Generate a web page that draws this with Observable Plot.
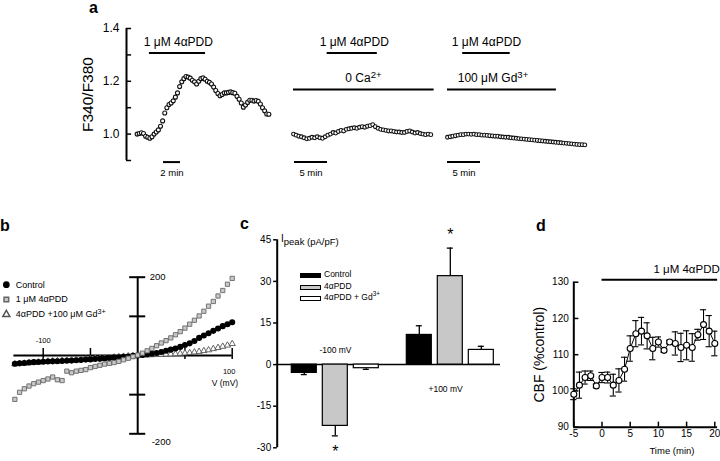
<!DOCTYPE html>
<html>
<head>
<meta charset="utf-8">
<script src="https://cdn.jsdelivr.net/npm/d3@7"></script>
<script src="https://cdn.jsdelivr.net/npm/@observablehq/plot@0.6"></script>
<style>
html,body{margin:0;padding:0;background:#fff;}
#fig{position:relative;width:720px;height:461px;overflow:hidden;font-family:"Liberation Sans",Arial,Helvetica,sans-serif;color:#000;background:#fff;}
#fig > svg{position:absolute;left:0;top:0;}
.plab{position:absolute;font-weight:bold;font-size:16px;line-height:1;}
.txt{position:absolute;line-height:1;white-space:nowrap;}
.txt sup{font-size:75%;line-height:0;}
.sw{position:absolute;width:19px;height:3px;border:1px solid #000;}
</style>
</head>
<body>
<div id="fig"></div>
<script>
const FONT = '"Liberation Sans", Arial, Helvetica, sans-serif';

// ---------------- Panel a : F340/F380 ----------------
const aYTicks = [0.9, 1.0, 1.1, 1.2, 1.3, 1.4];
const aYLabels = [1.0, 1.2, 1.4];
const aTrace1Start = 1.25, aTrace1Step = 0.25; // min
const aTrace1 = [1.000,1.002,1.005,1.002,0.992,0.988,0.984,0.990,1.000,1.008,
                 1.016,1.030,1.050,1.080,1.100,1.112,1.118,1.126,1.140,1.156,
                 1.180,1.198,1.210,1.218,1.216,1.212,1.204,1.198,1.190,1.200,
                 1.210,1.213,1.208,1.200,1.196,1.190,1.178,1.165,1.154,1.145,
                 1.150,1.156,1.156,1.158,1.160,1.157,1.155,1.143,1.132,1.118,
                 1.102,1.110,1.120,1.128,1.128,1.125,1.127,1.124,1.114,1.100,
                 1.088,1.076,1.075];
const aTrace2Start = 0, aTrace2Step = 0.4;
const aTrace2 = [1.000,0.996,0.992,0.990,0.986,0.982,0.984,0.988,0.986,0.990,
                 0.986,0.984,0.990,0.996,1.000,1.006,1.004,1.010,1.014,1.012,
                 1.018,1.020,1.022,1.024,1.022,1.026,1.028,1.026,1.030,1.032,
                 1.036,1.028,1.022,1.018,1.016,1.014,1.012,1.012,1.010,1.008,
                 1.008,1.006,1.006,1.010,1.012,1.008,1.004,1.006,1.002,1.000,
                 0.998,1.000,0.998];
const aTrace3Start = 0, aTrace3Step = 0.4;
const aTrace3 = [0.988,0.990,0.992,0.994,0.996,0.998,0.998,1.000,1.000,0.999,
                 1.000,0.998,0.998,0.996,0.996,0.995,0.994,0.993,0.992,0.992,
                 0.990,0.989,0.988,0.988,0.986,0.985,0.984,0.983,0.982,0.981,
                 0.980,0.979,0.978,0.977,0.976,0.975,0.974,0.973,0.972,0.971,
                 0.970,0.969,0.968,0.967,0.966,0.965,0.964,0.963,0.962,0.961,
                 0.960,0.960,0.959];
const aLevels = {drug: 1.307, bath: 1.169, scale: 0.894};
const aAnnot1 = [{label: "1 μM 4αPDD", level: "drug", from: 2.7, to: 9.3, at: 6.1}];
const aAnnot2 = [{label: "1 μM 4αPDD", level: "drug", from: 5.1, to: 12.7, at: 9.2},
                 {label: "0 Ca²⁺", level: "bath", from: 0, to: 21.3, at: 10.6}];
const aAnnot3 = [{label: "1 μM 4αPDD", level: "drug", from: 2.3, to: 9.5, at: 5.9},
                 {label: "100 μM Gd³⁺", level: "bath", from: 0, to: 16.5, at: 6.9}];
const aScale1 = [{label: "2 min", from: 4.35, to: 6.35}];
const aScale2 = [{label: "5 min", from: 0.15, to: 5.15}];
const aScale3 = [{label: "5 min", from: 0, to: 5}];

// ---------------- Panel b : I-V curves ----------------
const bVStart = -130, bVStep = 5; // mV
const bControl = [-21,-20,-19,-18,-17,-16.5,-16,-15.5,-15,-14.5,-14,-13.5,-13,-12,-11.5,-10.5,-10,-9,-8.5,-7.5,
                  -6.5,-5.5,-4.5,-3.5,-2.5,-1,0,1.5,3,4.5,6.5,9,12,15,18,22,27,31,37,45,51,57,63,69,75,80,85];
const bPDD = [-112,-94,-85,-78,-72,-68,-64,-60,-55,-62,-64,-40,-44,-40,-38,-36,-31,-28,-25,-22,
              -20,-18,-15,-11,-7,-3,1,6,12,18,25,32,38,45,53,61,70,80,90,101,113,126,138,152,166,182,197];
const bGd = [-22,-21,-20,-19,-18,-17,-16,-15,-14.5,-14,-13,-12.5,-12,-11,-10,-9.5,-9,-8,-7,-6.5,
             -5.5,-4.5,-3.5,-2.5,-1.5,-1,0,0.5,1,1.5,2,2.5,3,3.5,4,5,6,7,8.5,10,12,14,17,20,23,26,30];
const bXTicks = [-100, -50, 50, 100];
const bYTicks = [-200, -100, 100, 200];
const bLegend = ["Control", "1 μM 4αPDD", "4αPDD +100 μM Gd³⁺"];

// ---------------- Panel c : peak currents ----------------
const cVolts = ["-100 mV", "+100 mV"];
const cConds = ["Control", "4αPDD", "4αPDD + Gd³⁺"];
const cMeanNeg = [-3.0, -22.1, -1.3];
const cErrNeg = [0.6, 3.6, 0.4];
const cMeanPos = [10.7, 31.9, 5.3];
const cErrPos = [3.3, 10.1, 1.3];
const cStar = [false, true, false];
const cFill = ["#000000", "#c8c8c8", "#ffffff"];
const cYTicks = [-30, -15, 0, 15, 30, 45];

// ---------------- Panel d : CBF ----------------
const dTime = [-5,-4,-3,-2,-1,0,1,2,3,4,5,6,7,8,9,10,11,12,13,14,15,16,17,18,19,20];
const dMean = [99.1,101.6,103.7,104.2,101.4,103.7,103.7,101.6,102.9,106.0,111.7,115.8,116.5,
               115.2,111.7,113.5,111.2,113.5,113.1,112.0,112.6,112.0,115.5,118.3,116.5,113.1];
const dErr = [1.5,3.6,1.8,1.3,0.5,1.4,1.5,3.0,3.2,3.3,3.5,3.6,3.8,
              3.6,3.1,1.4,0.5,0.5,3.2,3.9,4.0,3.8,1.5,4.1,4.3,3.4];
const dXTicks = [-5, 0, 5, 10, 15, 20];
const dYTicks = [90, 100, 110, 120, 130];
const dDrug = [{label: "1 μM 4αPDD", from: 0, to: 20.5, at: 15}];

// ======================================================
const fig = document.getElementById("fig");
const SUP = {"²": "2", "³": "3", "⁺": "+"};
function fixSuperscripts(svg) {
  svg.querySelectorAll("text").forEach(t => {
    const s = t.textContent;
    const m = s.match(/^(.*?)([²³]⁺)$/);
    if (!m || t.children.length) return;
    t.textContent = m[1];
    const ts = document.createElementNS("http://www.w3.org/2000/svg", "tspan");
    ts.setAttribute("dy", "-0.45em");
    ts.setAttribute("font-size", "0.8em");
    ts.textContent = [...m[2]].map(c => SUP[c]).join("");
    t.appendChild(ts);
  });
}
function layer(opts) {
  const svg = Plot.plot({
    width: 720, height: 461,
    style: {background: "transparent", fontFamily: FONT, fontSize: "10px", overflow: "visible", color: "#000"},
    ...opts
  });
  fixSuperscripts(svg);
  fig.appendChild(svg);
  return svg;
}
const series = (vals, start, step) => vals.map((v, i) => ({t: start + i * step, v}));

// ---- Panel a (three separate time bases, shared ratio scale) ----
const aY = {domain: [0.9, 1.4], axis: null};
function annotMarks(annots, scale) {
  return [
    Plot.ruleY(annots, {y: d => aLevels[d.level], x1: "from", x2: "to", strokeWidth: 2}),
    Plot.text(annots, {x: "at", y: d => aLevels[d.level], text: "label", lineAnchor: "bottom", dy: -7, fontSize: 12}),
    Plot.ruleY(scale, {y: aLevels.scale, x1: "from", x2: "to", strokeWidth: 2}),
    Plot.text(scale, {x: d => (d.from + d.to) / 2, y: aLevels.scale, text: "label", lineAnchor: "top", dy: 7, fontSize: 9.5})
  ];
}
layer({
  marginLeft: 126, marginRight: 449.5, marginTop: 28, marginBottom: 301,
  x: {domain: [0, 17], axis: null}, y: aY,
  marks: [
    Plot.ruleX([0], {y1: 0.9, y2: 1.4, strokeWidth: 2}),
    Plot.ruleY(aYTicks, {y: d => d, x1: 0, x2: 0.6, strokeWidth: 1.5}),
    Plot.text(aYLabels, {x: 0, y: d => d, text: d => d.toFixed(1), textAnchor: "end", dx: -7, fontSize: 12}),
    Plot.text(["F340/F380"], {x: 0, y: 1.15, dx: -38, rotate: -90, fontSize: 15.5}),
    Plot.dot(series(aTrace1, aTrace1Start, aTrace1Step), {x: "t", y: "v", r: 2, fill: "white", stroke: "#111", strokeWidth: 1.1}),
    ...annotMarks(aAnnot1, aScale1)
  ]
});
layer({
  marginLeft: 293, marginRight: 286.4, marginTop: 28, marginBottom: 301,
  x: {domain: [0, 21.3], axis: null}, y: aY,
  marks: [
    Plot.dot(series(aTrace2, aTrace2Start, aTrace2Step), {x: "t", y: "v", r: 1.9, fill: "white", stroke: "#111", strokeWidth: 1.1}),
    ...annotMarks(aAnnot2, aScale2)
  ]
});
layer({
  marginLeft: 447, marginRight: 132.4, marginTop: 28, marginBottom: 301,
  x: {domain: [0, 21.3], axis: null}, y: aY,
  marks: [
    Plot.dot(series(aTrace3, aTrace3Start, aTrace3Step), {x: "t", y: "v", r: 1.9, fill: "white", stroke: "#111", strokeWidth: 1.1}),
    ...annotMarks(aAnnot3, aScale3)
  ]
});

// ---- Panel b ----
const bC = series(bControl, bVStart, bVStep);
const bP = series(bPDD, bVStart, bVStep);
const bG = series(bGd, bVStart, bVStep);
const bLegRows = bLegend.map((label, i) => ({label, i, y: 181 - i * 38}));
layer({
  marginLeft: 42.7, marginRight: 488.3, marginTop: 276.7, marginBottom: 27.7,
  x: {domain: [-100, 100], axis: null}, y: {domain: [-200, 200], axis: null},
  marks: [
    Plot.ruleY([0], {x1: -131, x2: 100, strokeWidth: 2}),
    Plot.ruleX([0], {y1: -200, y2: 200, strokeWidth: 2}),
    Plot.ruleX(bXTicks, {x: d => d, y1: -10, y2: 18, strokeWidth: 1.5}),
    Plot.ruleY(bYTicks, {y: d => d, x1: -8.5, x2: 8.5, strokeWidth: 2}),
    Plot.text([200], {x: 0, y: d => d, text: d => String(d), textAnchor: "start", dx: 12, fontSize: 9.5}),
    Plot.text([-200], {x: 0, y: d => d, text: d => String(d), textAnchor: "start", dx: 14, dy: 8, fontSize: 9.5}),
    Plot.text([-100], {x: d => d, y: 0, text: d => String(d), dy: -15, fontSize: 7.5}),
    Plot.text([100], {x: d => d, y: 0, text: d => String(d), dx: -3, dy: 16, fontSize: 7.5}),
    Plot.text(["V (mV)"], {x: 100, y: 0, text: d => d, textAnchor: "end", dx: 6, dy: 28, fontSize: 8.5}),
    Plot.dot(bG, {x: "t", y: "v", symbol: "triangle", r: 2.3, fill: "white", stroke: "#555", strokeWidth: 0.9}),
    Plot.dot(bC, {x: "t", y: "v", r: 2.3, fill: "#000", stroke: "#000"}),
    Plot.dot(bP, {x: "t", y: "v", symbol: "square", r: 2.4, fill: "#c8c8c8", stroke: "#666", strokeWidth: 0.9}),
    // legend
    Plot.dot(bLegRows, {x: -139, y: "y", r: 2.6,
      symbol: d => ["circle", "square", "triangle"][d.i],
      fill: d => ["#000", "#c8c8c8", "#fff"][d.i],
      stroke: d => ["#000", "#666", "#555"][d.i]}),
    Plot.text(bLegRows, {x: -129, y: "y", text: "label", textAnchor: "start", fontSize: 9})
  ]
});

// ---- Panel c ----
const cRows = [];
cVolts.forEach((volt, vi) => cConds.forEach((cond, ci) => {
  const value = vi === 0 ? cMeanNeg[ci] : cMeanPos[ci];
  const err = vi === 0 ? cErrNeg[ci] : cErrPos[ci];
  cRows.push({volt, cond, value, err, end: value + Math.sign(value) * err, star: cStar[ci], fill: cFill[ci]});
}));
// axis, zero line, labels
layer({
  marginLeft: 276.7, marginRight: 220, marginTop: 239.3, marginBottom: 13.7,
  x: {domain: [0, 1], axis: null}, y: {domain: [-30, 45], axis: null},
  marks: [
    Plot.ruleX([0], {y1: -30, y2: 45, strokeWidth: 2}),
    Plot.ruleY(cYTicks, {y: d => d, x1: -0.016, x2: 0, strokeWidth: 1.5}),
    Plot.text(cYTicks, {x: 0, y: d => d, text: d => String(d), textAnchor: "end", dx: -6, fontSize: 10}),
    Plot.ruleY([0], {x1: 0, x2: 1, strokeWidth: 1.5}),
    Plot.text([cVolts[0]], {x: 0.261, y: 5.3, text: d => d, fontSize: 8.5}),
    Plot.text([cVolts[1]], {x: 0.754, y: -9, text: d => d, fontSize: 8.5})
  ]
});
// bars (faceted by voltage)
layer({
  marginLeft: 276.7, marginRight: 212.8, marginTop: 239.3, marginBottom: 13.7,
  facet: {data: cRows, x: "volt"},
  fx: {domain: cVolts, paddingInner: 0.115, paddingOuter: 0.0536, axis: null, label: null},
  x: {domain: cConds, padding: 0.2, axis: null, label: null},
  y: {domain: [-30, 45], axis: null},
  marks: [
    Plot.ruleX(cRows, {x: "cond", y1: "value", y2: "end", strokeWidth: 1.3}),
    Plot.tickY(cRows, {x: "cond", y: "end", insetLeft: 9.5, insetRight: 9.5, strokeWidth: 1.3}),
    Plot.barY(cRows, {x: "cond", y: "value", fill: "fill", stroke: "#000", strokeWidth: 1.2}),
    Plot.text(cRows, {filter: d => d.star && d.value > 0, x: "cond", y: "end", text: () => "*", dy: -13.4, fontSize: 16}),
    Plot.text(cRows, {filter: d => d.star && d.value < 0, x: "cond", y: "end", text: () => "*", dy: 15.7, fontSize: 16})
  ]
});

// ---- Panel d ----
const dRows = dTime.map((t, i) => ({t, v: dMean[i], e: dErr[i]}));
layer({
  marginLeft: 573.3, marginRight: 5.7, marginTop: 281.7, marginBottom: 34.3,
  x: {domain: [-5, 20], axis: null}, y: {domain: [90, 130], axis: null},
  marks: [
    Plot.ruleX([-5], {y1: 90, y2: 130, strokeWidth: 2}),
    Plot.ruleY([90], {x1: -5, x2: 20.5, strokeWidth: 2}),
    Plot.ruleY(dYTicks, {y: d => d, x1: -5, x2: -4.1, strokeWidth: 1.5}),
    Plot.ruleX(dXTicks, {x: d => d, y1: 90, y2: 91.4, strokeWidth: 1.5}),
    Plot.text(dYTicks, {x: -5, y: d => d, text: d => String(d), textAnchor: "end", dx: -5, fontSize: 10}),
    Plot.text(dXTicks, {x: d => d, y: 90, text: d => String(d), lineAnchor: "top", dy: 3, fontSize: 10}),
    Plot.text(["Time (min)"], {x: 12.4, y: 90, text: d => d, lineAnchor: "top", dy: 20, fontSize: 9.5}),
    Plot.text(["CBF (%control)"], {x: -5, y: 110, text: d => d, rotate: -90, dx: -34, fontSize: 14}),
    Plot.ruleY(dDrug, {y: 130.7, x1: "from", x2: "to", strokeWidth: 2}),
    Plot.text(dDrug, {x: "at", y: 130.7, text: "label", lineAnchor: "bottom", dy: -7, fontSize: 11.5}),
    Plot.ruleX(dRows, {x: "t", y1: d => d.v - d.e, y2: d => d.v + d.e, strokeWidth: 1.1}),
    Plot.ruleY(dRows, {y: d => d.v + d.e, x1: d => d.t - 0.55, x2: d => d.t + 0.55, strokeWidth: 1.1}),
    Plot.ruleY(dRows, {y: d => d.v - d.e, x1: d => d.t - 0.55, x2: d => d.t + 0.55, strokeWidth: 1.1}),
    Plot.line(dRows, {x: "t", y: "v", strokeWidth: 1}),
    Plot.dot(dRows, {x: "t", y: "v", r: 3, fill: "white", stroke: "#000", strokeWidth: 1.1})
  ]
});

// ---- HTML extras: panel letters, panel c legend and y label ----
function addDiv(cls, html, css) {
  const el = document.createElement("div");
  el.className = cls; el.innerHTML = html;
  Object.assign(el.style, css);
  fig.appendChild(el);
}
addDiv("plab", "a", {left: "89px", top: "0px"});
addDiv("plab", "b", {left: "0px", top: "218px"});
addDiv("plab", "c", {left: "240px", top: "216px"});
addDiv("plab", "d", {left: "536px", top: "218px"});
addDiv("txt", 'I<span style="position:relative;top:3px;font-size:9.5px">peak (pA/pF)</span>', {left: "281px", top: "234px", fontSize: "10px"});
const cLegHtml = ["Control", "4αPDD", "4αPDD + Gd<sup>3+</sup>"];
cConds.forEach((c, i) => {
  const top = [272.5, 284.5, 295.5][i];
  addDiv("sw", "", {left: "300px", top: top + "px", background: cFill[i]});
  addDiv("txt", cLegHtml[i], {left: "324px", top: (top - 2.5) + "px", fontSize: "8.5px"});
});
</script>
</body>
</html>
